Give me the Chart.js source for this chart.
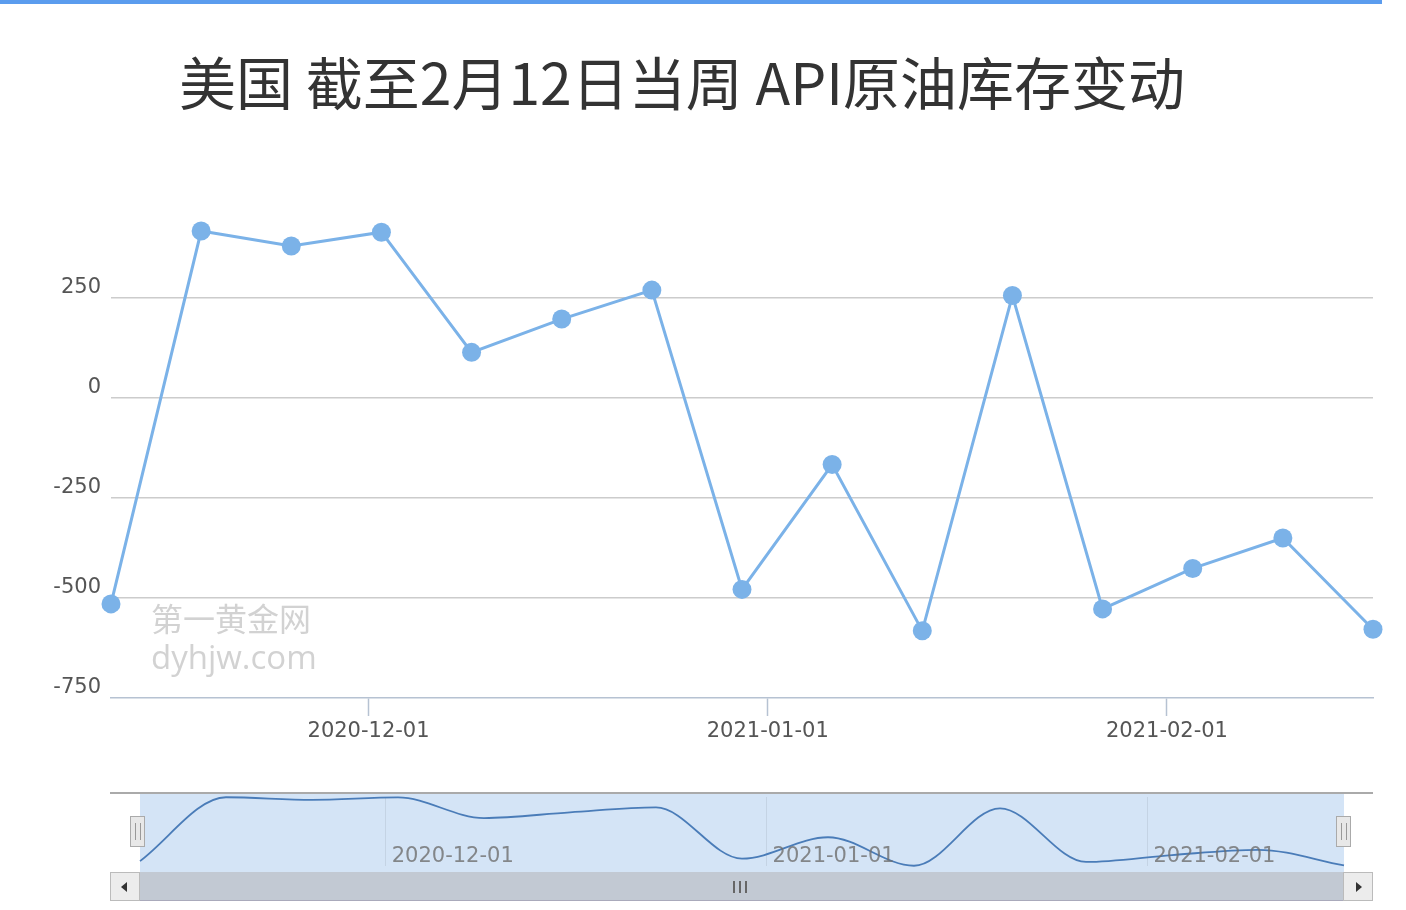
<!DOCTYPE html>
<html>
<head>
<meta charset="utf-8">
<script src="https://cdn.jsdelivr.net/npm/chart.js@4.4.1/dist/chart.umd.min.js"></script>
<style>
  html, body { margin: 0; padding: 0; background: #fff; }
  body { width: 1406px; height: 910px; position: relative; overflow: hidden; font-family: "Open Sans", "Noto Sans", sans-serif; }
  #topbar { position: absolute; left: 0; top: 0; width: 1382px; height: 4px; background: #5b9cee; }
  #title { position: absolute; left: 0; width: 1364px; top: 40px; text-align: center; font-family: "Noto Sans CJK SC", sans-serif; font-size: 57px; line-height: 80px; color: #333; }
  #main { position: absolute; left: 0; top: 0; }
  .wm { position: absolute; left: 151px; color: #d2d2d2; font-size: 32px; line-height: 40px; white-space: nowrap; }
  #wm1 { top: 597px; font-family: "Noto Sans CJK SC", sans-serif; }
  #wm2 { top: 637px; font-family: "Open Sans", sans-serif; font-size: 33px; }
  #zoomTopLine { position: absolute; left: 110px; top: 792px; width: 1263px; height: 2px; background: #aaa; }
  #zoomFill { position: absolute; left: 140px; top: 794px; width: 1204px; height: 78px; background: #d4e4f6; }
  #mini { position: absolute; left: 0; top: 760px; }
  .handle { position: absolute; top: 816px; width: 15px; height: 31px; background: #e8e8e8; border: 1px solid #aaa; box-sizing: border-box; }
  .handle::after { content: ""; position: absolute; left: 4px; top: 6px; width: 4px; height: 17px; border-left: 1px solid #999; border-right: 1px solid #999; }
  #scroll { position: absolute; left: 110px; top: 872px; width: 1263px; height: 29px; background: #c2c9d3; border-bottom: 1px solid #aab; box-sizing: border-box; }
  .arrow { position: absolute; top: 872px; width: 30px; height: 29px; background: #ececec; border: 1px solid #bbb; box-sizing: border-box; }
  #grip { position: absolute; left: 733px; top: 881px; width: 16px; height: 12px; }
  #grip span { position: absolute; top: 0; width: 2px; height: 12px; background: #666; }
</style>
</head>
<body>
<div id="topbar"></div>
<div id="title">美国 截至2月12日当周 API原油库存变动</div>
<canvas id="main" width="1406" height="780"></canvas>
<div class="wm" id="wm1">第一黄金网</div>
<div class="wm" id="wm2">dyhjw.com</div>
<div id="zoomTopLine"></div>
<div id="zoomFill"></div>
<canvas id="mini" width="1406" height="150"></canvas>
<div class="handle" style="left:130px"></div>
<div class="handle" style="left:1336px"></div>
<div id="scroll"></div>
<div class="arrow" style="left:110px"><svg width="28" height="27"><polygon points="16,9 16,19 10,14" fill="#333"/></svg></div>
<div class="arrow" style="left:1343px"><svg width="28" height="27"><polygon points="12,9 12,19 18,14" fill="#333"/></svg></div>
<div id="grip"><span style="left:0"></span><span style="left:6px"></span><span style="left:12px"></span></div>
<script>
// ---- data ----
const dates = ['2020-11-11','2020-11-18','2020-11-25','2020-12-02','2020-12-09','2020-12-16','2020-12-23','2020-12-30','2021-01-06','2021-01-13','2021-01-20','2021-01-27','2021-02-03','2021-02-10','2021-02-17'];
const values = [-514.7, 417.4, 380.0, 414.6, 114.1, 197.3, 269.7, -478.5, -166.3, -582.1, 256.2, -527.2, -426.1, -350.0, -578.0];
const xTickLabels = ['2020-12-01','2021-01-01','2021-02-01'];
const yTicks = [-750, -500, -250, 0, 250, 500];

const DAY = 86400000;
const toDay = s => { const p = s.split('-').map(Number); return Date.UTC(p[0], p[1]-1, p[2]) / DAY; };
const dayToLabel = d => { const t = new Date(d * DAY); return t.getUTCFullYear() + '-' + String(t.getUTCMonth()+1).padStart(2,'0') + '-' + String(t.getUTCDate()).padStart(2,'0'); };
const points = dates.map((d, i) => ({ x: toDay(d), y: values[i] }));
const xTickDays = xTickLabels.map(toDay);
const xMin = toDay(dates[0]), xMax = toDay(dates[dates.length-1]);

const lineColor = '#7bb2e8';
const tickFont = { size: 21, family: '"DejaVu Sans", sans-serif' };

new Chart(document.getElementById('main'), {
  type: 'line',
  data: { datasets: [{ data: points, borderColor: lineColor, backgroundColor: lineColor, borderWidth: 3, pointRadius: 9.5, pointHoverRadius: 9.5, pointBackgroundColor: lineColor, pointBorderWidth: 0, tension: 0, clip: false }] },
  options: {
    responsive: false, animation: false, events: [],
    layout: { padding: { left: 0, right: 33, top: 198, bottom: 0 } },
    plugins: { legend: { display: false }, tooltip: { enabled: false }, title: { display: false } },
    scales: {
      x: {
        type: 'linear', min: xMin, max: xMax,
        afterBuildTicks: s => { s.ticks = xTickDays.map(v => ({ value: v })); },
        afterFit: s => { s.height = 780 - 698; },
        ticks: { callback: v => dayToLabel(v), color: '#555', font: tickFont, padding: 3, maxRotation: 0, autoSkip: false },
        grid: { drawOnChartArea: false, drawTicks: true, tickLength: 18, tickColor: '#b6c2d2', tickWidth: 1.5 },
        border: { display: true, color: '#b6c2d2', width: 1.5 }
      },
      y: {
        min: -750, max: 500,
        afterBuildTicks: s => { s.ticks = yTicks.map(v => ({ value: v })); },
        afterFit: s => { s.width = 111; },
        ticks: { callback: v => (v === 500 ? '' : String(v)), color: '#555', font: tickFont, padding: 10, labelOffset: -10 },
        grid: { drawTicks: false, color: c => (c.tick && (c.tick.value === 500 || c.tick.value === -750)) ? 'rgba(0,0,0,0)' : '#cccccc', lineWidth: 1.5 },
        border: { display: false }
      }
    }
  }
});

// ---- mini (data zoom) chart ----
new Chart(document.getElementById('mini'), {
  type: 'line',
  data: { datasets: [{ data: points, borderColor: '#4a7cb8', borderWidth: 1.8, pointRadius: 0, tension: 0.4, cubicInterpolationMode: 'monotone', fill: false, clip: false }] },
  options: {
    responsive: false, animation: false, events: [],
    layout: { padding: { left: 140, right: 1406 - 1344, top: 37, bottom: 0 } },
    plugins: { legend: { display: false }, tooltip: { enabled: false } },
    scales: {
      x: {
        type: 'linear', min: xMin, max: xMax,
        afterBuildTicks: s => { s.ticks = xTickDays.map(v => ({ value: v })); },
        afterFit: s => { s.height = 150 - 106; },
        ticks: { display: false },
        grid: { drawOnChartArea: true, drawTicks: false, color: '#c4d3e4', lineWidth: 1 },
        border: { display: false }
      },
      y: { display: false, min: Math.min(...values) - 4, max: Math.max(...values) + 4 }
    }
  },
  plugins: [{
    id: 'miniLabels',
    afterDraw(chart) {
      const ctx = chart.ctx, xs = chart.scales.x;
      ctx.save();
      ctx.font = '21px "DejaVu Sans", sans-serif';
      ctx.fillStyle = 'rgba(110,110,110,0.8)';
      ctx.textAlign = 'left'; ctx.textBaseline = 'middle';
      xTickDays.forEach((d, i) => ctx.fillText(xTickLabels[i], xs.getPixelForValue(d) + 6, 97));
      ctx.restore();
    }
  }]
});
</script>
</body>
</html>
